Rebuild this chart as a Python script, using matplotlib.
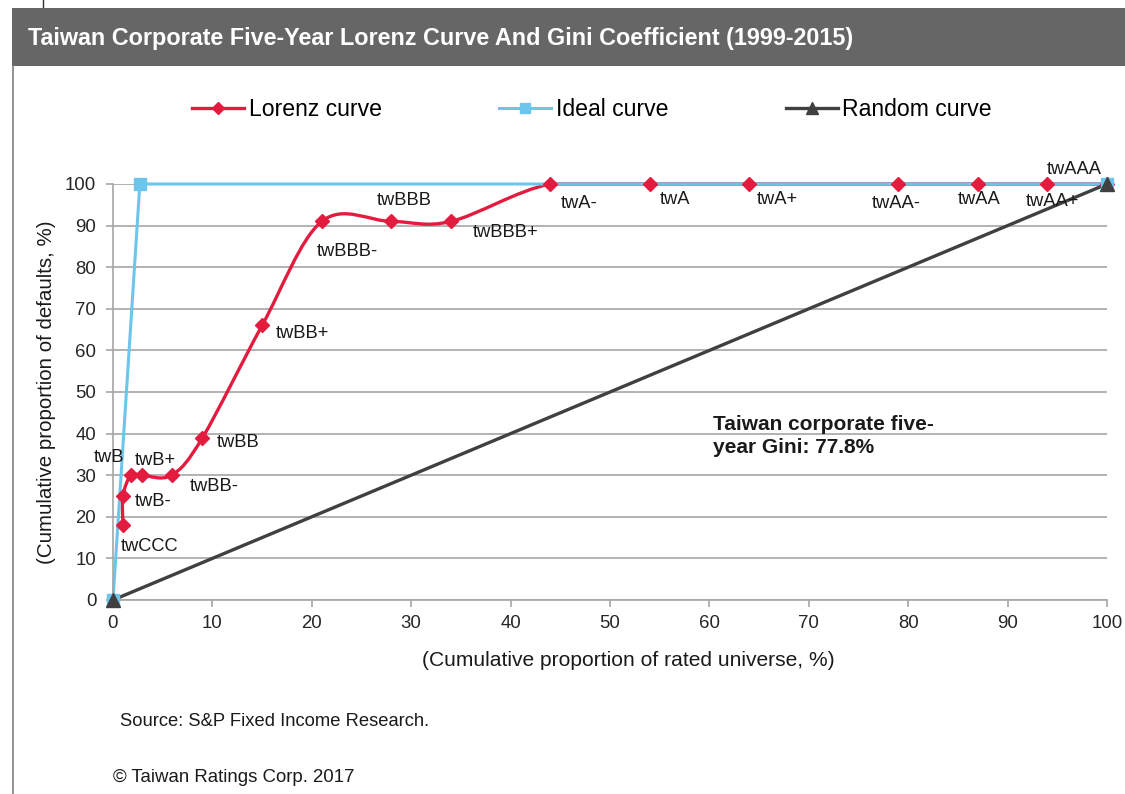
import numpy as np
import matplotlib
matplotlib.use("Agg")
import matplotlib.pyplot as plt
from matplotlib.path import Path
from matplotlib.patches import PathPatch, Rectangle
from matplotlib.lines import Line2D
from matplotlib import font_manager

# ---------------- data ----------------
lorenz_labels = ["twCCC", "twB-", "twB", "twB+", "twBB-", "twBB", "twBB+",
                 "twBBB-", "twBBB", "twBBB+", "twA-", "twA", "twA+",
                 "twAA-", "twAA", "twAA+", "twAAA"]
lorenz_x = [1, 1, 1.8, 2.9, 5.9, 9, 15, 21, 28, 34, 44, 54, 64, 79, 87, 94, 100]
lorenz_y = [18, 25, 30, 30, 30, 39, 66, 91, 91, 91, 100, 100, 100, 100, 100, 100, 100]
ideal_x = [0, 2.7, 100]
ideal_y = [0, 100, 100]
random_x = [0, 100]
random_y = [0, 100]
x_ticks = list(range(0, 101, 10))
y_ticks = list(range(0, 101, 10))
gini_text = "Taiwan corporate five-\nyear Gini: 77.8%"
title = "Taiwan Corporate Five-Year Lorenz Curve And Gini Coefficient (1999-2015)"

# label offsets in pixels (dx, dy) relative to marker, text left-aligned, centred vertically
label_offsets = [(-2, -21), (12, -6), (-37, 18), (-7, 15), (18, -11), (14, -5), (14, -8),
                 (-5, -30), (-15, 21), (22, -11), (10, -20), (10, -16), (8, -16),
                 (-27, -19), (-20, -16), (-22, -17), (-60, 14)]

names = {f.name for f in font_manager.fontManager.ttflist}
narrow = "Liberation Sans Narrow" if "Liberation Sans Narrow" in names else "Liberation Sans"
plt.rcParams["font.family"] = ["Liberation Sans", "DejaVu Sans"]

W, H = 1125, 794
fig = plt.figure(figsize=(W / 100, H / 100), dpi=100)

def fx(px):
    return px / W

def fy(py):
    return 1 - py / H

# header bar & borders
fig.add_artist(Rectangle((fx(12), fy(66)), 1 - fx(12), fy(8) - fy(66),
                         transform=fig.transFigure, facecolor="#666666", edgecolor="none"))
fig.add_artist(Line2D([fx(12.5), fx(12.5)], [fy(66), 0], transform=fig.transFigure,
                      color="#7f7f7f", lw=1.2))
fig.add_artist(Line2D([fx(43), fx(43)], [fy(0), fy(7)], transform=fig.transFigure,
                      color="#333333", lw=1.0))
fig.text(fx(28), fy(38), title, color="white", fontsize=16.8, fontweight="bold",
         family=[narrow, "Liberation Sans"], va="center", ha="left")

ax = fig.add_axes([fx(113), fy(600), fx(1107) - fx(113), fy(184) - fy(600)])
ax.set_xlim(0, 100)
ax.set_ylim(0, 100)
ax.set_xticks(x_ticks)
ax.set_yticks(y_ticks)
ax.grid(axis="y", color="#a6a6a6", lw=1.2, zorder=0)
ax.set_axisbelow(True)
for s in ["top", "right"]:
    ax.spines[s].set_visible(False)
for s in ["left", "bottom"]:
    ax.spines[s].set_color("#a6a6a6")
    ax.spines[s].set_linewidth(1.2)
ax.tick_params(axis="both", colors="#a6a6a6", labelcolor="#262626", labelsize=13.4,
               length=5, width=1.2, direction="out")
ax.tick_params(axis="y", pad=7)
ax.tick_params(axis="x", pad=6)

# Excel-like smoothed line (Catmull-Rom Bezier), control points kept inside the axis range
def smooth_path(xs, ys, ylo, yhi):
    P = np.column_stack([xs, ys]).astype(float)
    n = len(P)
    verts = [P[0]]
    codes = [Path.MOVETO]
    for i in range(n - 1):
        p0 = P[i - 1] if i > 0 else P[i]
        p1 = P[i]
        p2 = P[i + 1]
        p3 = P[i + 2] if i + 2 < n else P[i + 1]
        c1 = p1 + (p2 - p0) / 6.0
        c2 = p2 - (p3 - p1) / 6.0
        c1[1] = np.clip(c1[1], ylo, yhi)
        c2[1] = np.clip(c2[1], ylo, yhi)
        verts += [c1, c2, p2]
        codes += [Path.CURVE4] * 3
    return Path(verts, codes)

red = "#e31b3f"
blue = "#6cc5ea"
dark = "#404040"

ax.add_patch(PathPatch(smooth_path(lorenz_x, lorenz_y, 0, 100), facecolor="none", edgecolor=red,
                       lw=2.4, zorder=2, clip_on=False))
ax.plot(lorenz_x, lorenz_y, ls="none", marker="D", ms=7.5, color=red, zorder=3.0, clip_on=False)
ax.plot(ideal_x, ideal_y, color=blue, lw=2.2, zorder=2.1, clip_on=False)
ax.plot(ideal_x, ideal_y, ls="none", marker="s", ms=9, color=blue, zorder=3.1, clip_on=False)
ax.plot(random_x, random_y, color=dark, lw=2.4, zorder=2.2, clip_on=False)
ax.plot(random_x, random_y, ls="none", marker="^", ms=10, color=dark, zorder=3.2, clip_on=False)

for lab, x, y, off in zip(lorenz_labels, lorenz_x, lorenz_y, label_offsets):
    ax.annotate(lab, (x, y), xytext=off, textcoords="offset pixels", ha="left", va="center",
                fontsize=13.2, color="#1a1a1a", zorder=6, annotation_clip=False)

ax.text(60.4, 39.4, gini_text, fontsize=15, fontweight="bold", ha="left", va="center",
        color="#1a1a1a", linespacing=1.32)

ax.set_ylabel("(Cumulative proportion of defaults, %)", fontsize=14.8, color="#1a1a1a")
ax.set_xlabel("(Cumulative proportion of rated universe, %)", fontsize=15.1, color="#1a1a1a")
ax.yaxis.set_label_coords((47 - 113) / (1107 - 113), 0.5)
ax.xaxis.set_label_coords((628 - 113) / (1107 - 113), -(660 - 600) / (600 - 184))
ax.xaxis.label.set_va("center")
ax.yaxis.label.set_va("center")

handles = [Line2D([], [], color=red, lw=2.4, marker="D", ms=6),
           Line2D([], [], color=blue, lw=2.2, marker="s", ms=7),
           Line2D([], [], color=dark, lw=2.4, marker="^", ms=8)]
fig.legend(handles, ["Lorenz curve", "Ideal curve", "Random curve"], loc="center",
           bbox_to_anchor=(fx(592), fy(110)), ncol=3, frameon=False, handlelength=2.25,
           handletextpad=0.2, columnspacing=5.1, prop={"family": [narrow, "Liberation Sans"], "size": 16.6})

fig.text(fx(120), fy(722), "Source: S&P Fixed Income Research.", fontsize=13.2, va="center", color="#1a1a1a")
fig.text(fx(113), fy(778), "\u00a9 Taiwan Ratings Corp. 2017", fontsize=13.4, va="center", color="#1a1a1a")

fig.savefig("out.png", dpi=100, facecolor="white")
